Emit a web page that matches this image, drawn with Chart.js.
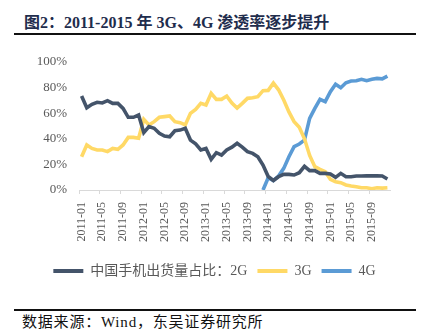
<!DOCTYPE html>
<html>
<head>
  <meta charset="utf-8">
  <title>3G/4G 渗透率</title>
  <script src="https://cdn.jsdelivr.net/npm/chart.js"></script>
  <style>
    body { margin: 0; background: #fff; width: 429px; height: 329px; position: relative; overflow: hidden; }
    #title { position: absolute; left: 24px; top: 9px; font: bold 16px "Liberation Serif", "Noto Sans CJK SC", serif; color: #1f2d4d; white-space: nowrap; }
    .rule { position: absolute; left: 14px; width: 402px; height: 2px; background: #111; }
    #wrap { position: absolute; left: 0; top: 36px; width: 429px; height: 252px; }
    #source { position: absolute; left: 22px; top: 314px; font: 15px "Liberation Serif", "Noto Sans CJK SC", serif; line-height: 16px; letter-spacing: 0.8px; color: #111; white-space: nowrap; }
  </style>
</head>
<body>
  <div id="title">图2：2011-2015 年 3G、4G 渗透率逐步提升</div>
  <div class="rule" style="top:33px"></div>
  <div id="wrap"><canvas id="c"></canvas></div>
  <div class="rule" style="top:309px"></div>
  <div id="source">数据来源：Wind，东吴证券研究所</div>

  <script>
    // 月份 2011-01 .. 2015-12
    const months = [];
    for (let y = 2011; y <= 2015; y++) {
      for (let m = 1; m <= 12; m++) months.push(y + '-' + String(m).padStart(2, '0'));
    }

    // 中国手机出货量占比 (%)
    const share2G = [73.4, 64.3, 67, 68.5, 68, 69.8, 67.7, 67.7, 63.8, 56.8, 56.8, 58.6,
                     44.8, 49.5, 48.2, 44.3, 42.2, 41.6, 46.3, 46.8, 48.2, 39, 36, 31.3,
                     32.5, 24, 29.2, 27.3, 31.3, 33.5, 36.5, 33.5, 30, 28.6, 26, 19.5,
                     10.5, 7.5, 10.4, 12.2, 12.2, 11.7, 13.5, 18.5, 15.1, 15.1, 13, 13,
                     12.5, 9.9, 13, 10.4, 10.4, 10.9, 10.9, 11, 11, 11, 10.9, 8.6];
    const share3G = [26, 35.2, 32.5, 31.3, 31.3, 30, 32.5, 31.8, 35.2, 41.1, 41.1, 40.4,
                     55.2, 50.8, 53.4, 56.8, 57.3, 57.8, 53.4, 52.6, 50.8, 59.9, 63, 67.7,
                     66.4, 75.5, 70.8, 70.8, 73.4, 68, 64, 67.7, 71.6, 72, 72.9, 77.6,
                     77.8, 83.5, 78.3, 70.3, 61, 53.4, 49, 40, 27, 18.2, 16.1, 14.3,
                     8.3, 6.5, 5.7, 3.9, 3.1, 2.6, 1.8, 1.8, 1, 1.8, 1.5, 1.8];
    const share4G = [null, null, null, null, null, null, null, null, null, null, null, null,
                     null, null, null, null, null, null, null, null, null, null, null, null,
                     null, null, null, null, null, null, null, null, null, null, null, 0,
                     9.6, 7.3, 10.9, 16.9, 26, 33.9, 35.9, 39, 56, 63.8, 70.8, 69,
                     76.8, 82.6, 79.9, 83.8, 85.2, 85.4, 86.5, 85.4, 86.5, 87.2, 86.8, 89];

    const serif = '"Liberation Serif", "Noto Sans CJK SC", serif';

    function line(label, data, color) {
      return {
        label: label,
        data: data,
        borderColor: color,
        backgroundColor: color,
        borderWidth: 3.6,
        pointRadius: 0,
        tension: 0
      };
    }

    new Chart(document.getElementById('c'), {
      type: 'line',
      data: {
        labels: months,
        datasets: [
          line('中国手机出货量占比：2G', share2G, '#44546a'),
          line('3G', share3G, '#ffd966'),
          line('4G', share4G, '#5b9bd5')
        ]
      },
      options: {
        responsive: true,
        maintainAspectRatio: false,
        animation: false,
        layout: { padding: { top: 26, right: 0, left: 0, bottom: 0 } },
        plugins: {
          tooltip: { enabled: false },
          legend: {
            position: 'bottom',
            labels: {
              boxWidth: 30,
              boxHeight: 4,
              padding: 10,
              color: '#595959',
              font: { family: serif, size: 14 },
              generateLabels: chart => Chart.defaults.plugins.legend.labels.generateLabels(chart)
                .map(l => ({ ...l, lineWidth: 0 }))
            }
          }
        },
        scales: {
          x: {
            offset: true,
            afterFit: s => { s.height = 64; s.paddingRight = 39; },
            grid: {
              offset: true,
              drawOnChartArea: false,
              tickLength: 4,
              color: ctx => ctx.index % 4 === 0 ? '#d9d9d9' : 'rgba(0,0,0,0)'
            },
            border: { color: '#d9d9d9' },
            ticks: {
              autoSkip: false,
              minRotation: 90,
              maxRotation: 90,
              padding: 8,
              color: '#595959',
              font: { family: serif, size: 12 },
              callback: (v, i) => i % 4 === 0 ? months[i] : ''
            }
          },
          y: {
            min: 0,
            max: 100,
            afterFit: s => { s.width = 79; },
            grid: { display: false, drawTicks: false },
            border: { display: false },
            ticks: {
              stepSize: 20,
              padding: 12,
              color: '#595959',
              font: { family: serif, size: 13 },
              callback: v => v + '%'
            }
          }
        }
      }
    });
  </script>
</body>
</html>
